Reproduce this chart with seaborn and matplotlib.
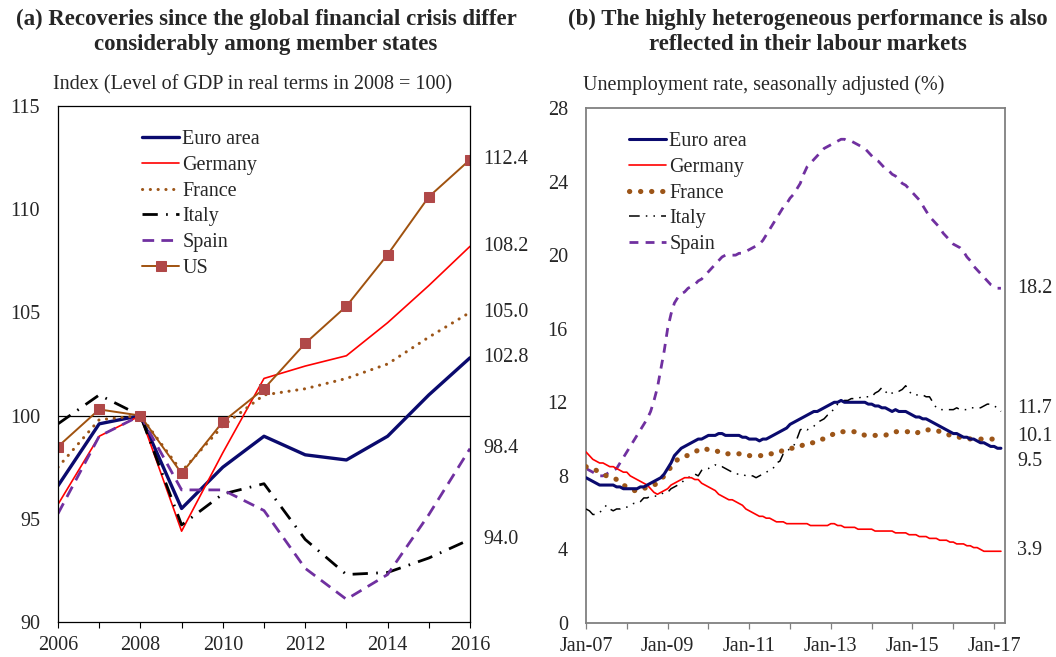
import numpy as np
import pandas as pd
import matplotlib
matplotlib.use("Agg")
import matplotlib.pyplot as plt
import seaborn as sns

# ---------------- data: panel (a) ----------------
years = [2006, 2007, 2008, 2009, 2010, 2011, 2012, 2013, 2014, 2015, 2016]
gdp_euro = [96.6, 99.6, 100.0, 95.5, 97.5, 99.0, 98.1, 97.85, 99.0, 101.0, 102.8]
gdp_germany = [95.7, 99.0, 100.0, 94.4, 98.2, 101.8, 102.4, 102.9, 104.5, 106.3, 108.2]
gdp_france = [97.5, 99.8, 100.0, 97.3, 99.5, 101.0, 101.3, 101.8, 102.5, 103.8, 105.0]
gdp_italy = [99.6, 101.0, 100.0, 94.7, 96.2, 96.7, 94.0, 92.3, 92.4, 93.1, 94.0]
gdp_spain = [95.25, 99.0, 100.0, 96.4, 96.4, 95.4, 92.6, 91.1, 92.3, 95.2, 98.4]
gdp_us = [98.5, 100.3, 100.0, 97.2, 99.7, 101.3, 103.5, 105.3, 107.8, 110.6, 112.4]

# ---------------- data: panel (b), monthly Jan-07 .. Mar-17 ----------------
un_euro = [
    7.9, 7.8, 7.7, 7.6, 7.5, 7.5, 7.5, 7.5, 7.5, 7.4, 7.4, 7.3,
    7.3, 7.3, 7.3, 7.3, 7.4, 7.4, 7.5, 7.6, 7.7, 7.8, 7.9, 8.1,
    8.4, 8.7, 9.1, 9.3, 9.5, 9.6, 9.7, 9.8, 9.9, 10.0, 10.0, 10.1,
    10.2, 10.2, 10.2, 10.3, 10.3, 10.2, 10.2, 10.2, 10.2, 10.2, 10.1, 10.1,
    10.0, 10.0, 10.0, 9.9, 10.0, 10.0, 10.1, 10.2, 10.3, 10.4, 10.5, 10.6,
    10.8, 10.9, 11.0, 11.1, 11.2, 11.3, 11.4, 11.5, 11.5, 11.6, 11.7, 11.8,
    11.9, 12.0, 12.0, 12.1, 12.0, 12.0, 12.0, 12.0, 12.0, 12.0, 12.0, 11.9,
    11.9, 11.8, 11.8, 11.7, 11.7, 11.6, 11.5, 11.6, 11.5, 11.5, 11.5, 11.4,
    11.3, 11.2, 11.2, 11.1, 11.1, 11.0, 10.9, 10.8, 10.7, 10.6, 10.5, 10.4,
    10.3, 10.3, 10.2, 10.1, 10.1, 10.0, 10.0, 9.9, 9.8, 9.8, 9.7, 9.6,
    9.6, 9.5, 9.5]
un_germany = [
    9.3, 9.1, 8.9, 8.8, 8.7, 8.7, 8.6, 8.5, 8.5, 8.4, 8.3, 8.2,
    8.2, 8.0, 7.9, 7.8, 7.7, 7.6, 7.5, 7.3, 7.1, 7.0, 7.1, 7.2,
    7.3, 7.5, 7.6, 7.7, 7.8, 7.9, 7.9, 7.9, 7.8, 7.8, 7.6, 7.5,
    7.4, 7.3, 7.2, 7.0, 6.9, 6.8, 6.7, 6.7, 6.6, 6.5, 6.4, 6.2,
    6.1, 6.0, 5.9, 5.8, 5.8, 5.7, 5.7, 5.6, 5.5, 5.5, 5.5, 5.4,
    5.4, 5.4, 5.4, 5.4, 5.4, 5.4, 5.3, 5.3, 5.3, 5.3, 5.3, 5.3,
    5.4, 5.4, 5.3, 5.3, 5.2, 5.2, 5.2, 5.2, 5.1, 5.1, 5.1, 5.1,
    5.1, 5.0, 5.0, 5.0, 5.0, 5.0, 5.0, 4.9, 4.9, 4.9, 4.9, 4.8,
    4.8, 4.8, 4.7, 4.7, 4.7, 4.6, 4.6, 4.6, 4.5, 4.5, 4.5, 4.4,
    4.4, 4.3, 4.3, 4.3, 4.2, 4.2, 4.1, 4.1, 4.0, 3.9, 3.9, 3.9,
    3.9, 3.9, 3.9]
un_france = [
    8.5, 8.4, 8.4, 8.3, 8.2, 8.1, 8.0, 8.0, 7.9, 7.8, 7.6, 7.5,
    7.4, 7.3, 7.2, 7.2, 7.3, 7.3, 7.4, 7.5, 7.5, 7.6, 7.8, 8.0,
    8.2, 8.5, 8.7, 8.9, 9.0, 9.1, 9.1, 9.2, 9.3, 9.4, 9.5, 9.5,
    9.4, 9.4, 9.4, 9.3, 9.3, 9.2, 9.2, 9.2, 9.2, 9.2, 9.2, 9.1,
    9.1, 9.1, 9.1, 9.1, 9.1, 9.1, 9.2, 9.2, 9.3, 9.3, 9.4, 9.4,
    9.5, 9.5, 9.6, 9.6, 9.7, 9.7, 9.8, 9.8, 9.9, 10.0, 10.0, 10.1,
    10.2, 10.3, 10.3, 10.4, 10.4, 10.4, 10.4, 10.4, 10.3, 10.3, 10.2, 10.2,
    10.2, 10.2, 10.2, 10.2, 10.2, 10.3, 10.3, 10.4, 10.4, 10.4, 10.4, 10.4,
    10.3, 10.3, 10.4, 10.5, 10.5, 10.5, 10.5, 10.5, 10.4, 10.4, 10.3, 10.2,
    10.2, 10.1, 10.1, 10.1, 10.1, 10.0, 10.0, 10.0, 10.0, 10.0, 10.0, 10.0,
    10.0, 10.1, 10.1]
un_italy = [
    6.2, 6.1, 5.9, 5.9, 6.0, 6.2, 6.4, 6.2, 6.1, 6.2, 6.2, 6.3,
    6.3, 6.4, 6.5, 6.5, 6.6, 6.8, 6.8, 6.9, 6.9, 6.9, 7.0, 7.1,
    7.1, 7.3, 7.4, 7.5, 7.6, 7.8, 7.9, 8.0, 8.1, 8.0, 8.3, 8.4,
    8.4, 8.5, 8.6, 8.5, 8.5, 8.4, 8.3, 8.2, 8.1, 8.1, 8.1, 8.0,
    8.0, 8.0, 7.9, 8.0, 8.1, 8.2, 8.3, 8.4, 8.7, 8.8, 9.2, 9.3,
    9.5, 9.6, 10.0, 10.5, 10.6, 10.5, 10.6, 10.7, 10.9, 11.0, 11.1, 11.3,
    11.4, 11.7, 11.9, 12.0, 12.1, 12.1, 12.2, 12.2, 12.2, 12.3, 12.3, 12.3,
    12.3, 12.5, 12.6, 12.8, 12.6, 12.4, 12.5, 12.6, 12.6, 12.7, 12.9, 12.6,
    12.4, 12.4, 12.4, 12.4, 12.3, 12.3, 12.0, 11.7, 11.6, 11.6, 11.6, 11.6,
    11.6, 11.7, 11.6, 11.6, 11.6, 11.7, 11.7, 11.7, 11.7, 11.8, 11.9, 11.9,
    11.8, 11.7, 11.5]
un_spain = [
    8.4, 8.3, 8.2, 8.1, 8.0, 8.0, 8.1, 8.2, 8.3, 8.4, 8.7, 9.0,
    9.3, 9.6, 9.9, 10.2, 10.5, 10.8, 11.1, 11.5, 12.1, 12.8, 13.8, 14.8,
    16.0, 16.8, 17.4, 17.7, 17.9, 18.0, 18.2, 18.3, 18.4, 18.6, 18.7, 18.9,
    19.1, 19.3, 19.5, 19.7, 19.9, 20.0, 20.0, 20.0, 20.0, 20.1, 20.1, 20.2,
    20.3, 20.4, 20.5, 20.6, 20.8, 21.1, 21.4, 21.7, 22.0, 22.3, 22.6, 22.8,
    23.1, 23.3, 23.6, 23.9, 24.4, 24.8, 25.0, 25.2, 25.4, 25.6, 25.8, 25.9,
    26.0, 26.1, 26.2, 26.3, 26.3, 26.2, 26.2, 26.1, 26.0, 25.9, 25.8, 25.6,
    25.4, 25.2, 25.1, 24.9, 24.7, 24.6, 24.4, 24.3, 24.1, 23.9, 23.8, 23.6,
    23.4, 23.2, 23.0, 22.7, 22.4, 22.1, 21.9, 21.7, 21.5, 21.2, 21.0, 20.8,
    20.6, 20.5, 20.4, 20.2, 19.9, 19.7, 19.4, 19.2, 19.0, 18.8, 18.6, 18.4,
    18.3, 18.2, 18.2]

month_tick_labels = ["Jan-07", "Jan-09", "Jan-11", "Jan-13", "Jan-15", "Jan-17"]
right_end_labels = ["9.5", "3.9", "10.1", "11.7", "18.2"]  # Euro, Germany, France, Italy, Spain

title_a = "(a) Recoveries since the global financial crisis differ\nconsiderably among member states"
title_b = "(b) The highly heterogeneous performance is also\nreflected in their labour markets"
sub_a = "Index (Level of GDP in real terms in 2008 = 100)"
sub_b = "Unemployment rate, seasonally adjusted (%)"

# ---------------- styling ----------------
sns.set_theme(style="white")
plt.rcParams['font.family'] = ['Liberation Serif', 'DejaVu Serif']
FS = 14.5
TFS = 16.5

NAVY = "#0a0a6e"
RED = "#ff0000"
BROWN = "#9c5518"
PURPLE = "#7030a0"
US_LINE = "#a0520f"
US_MARK = "#b04848"

W, H = 1056, 657
fig = plt.figure(figsize=(W / 100, H / 100), dpi=100)

def fx(px):
    return px / W

def fy(py):
    return 1 - py / H

axL = fig.add_axes([fx(58), fy(622), fx(470) - fx(58), fy(106) - fy(622)])
axR = fig.add_axes([fx(586), fy(623), fx(1005) - fx(586), fy(108) - fy(623)])

# ---------------- panel (a) ----------------
dfa = pd.DataFrame({"year": years, "Euro area": gdp_euro, "Germany": gdp_germany,
                    "France": gdp_france, "Italy": gdp_italy, "Spain": gdp_spain,
                    "US": gdp_us})

axL.axhline(100, color="black", lw=0.9, zorder=1)
styles_a = {
    "Euro area": dict(color=NAVY, lw=2.4, linestyle="-"),
    "Germany": dict(color=RED, lw=1.2, linestyle="-"),
    "France": dict(color=BROWN, lw=2.2, linestyle=(0, (0.05, 2.5)), dash_capstyle="round"),
    "Italy": dict(color="black", lw=2.0, linestyle=(0, (5.5, 3.0, 0.6, 3.0))),
    "Spain": dict(color=PURPLE, lw=2.0, linestyle=(0, (4.2, 2.6))),
    "US": dict(color=US_LINE, lw=1.4, linestyle="-", marker="s", markersize=6.5,
               markerfacecolor=US_MARK, markeredgecolor=US_MARK),
}
handles_a = []
for name in ["Euro area", "Germany", "France", "Italy", "Spain", "US"]:
    sns.lineplot(data=dfa, x="year", y=name, ax=axL, errorbar=None, label=name,
                 legend=False, **styles_a[name])
    handles_a.append(axL.lines[-1])

axL.set_xlim(2006, 2016)
axL.set_ylim(90, 115)
axL.set_xticks(years)
axL.set_xticklabels([str(y) if (y % 2 == 0) else "" for y in years])
axL.set_yticks([90, 95, 100, 105, 110, 115])
axL.tick_params(axis="x", which="both", direction="out", length=4, width=0.8,
                color="black", bottom=True, labelsize=FS, pad=6)
axL.tick_params(axis="y", length=0, labelsize=FS, pad=13)
axL.set_xlabel("")
axL.set_ylabel("")
for s in axL.spines.values():
    s.set_color("black")
    s.set_linewidth(0.9)

for vals in [gdp_us, gdp_germany, gdp_france, gdp_euro, gdp_spain, gdp_italy]:
    axL.text(2016.32, vals[-1], f"{vals[-1]:.1f}", fontsize=FS, va="center", ha="left",
             clip_on=False)

axL.legend(handles=handles_a, labels=["Euro area", "Germany", "France", "Italy", "Spain", "US"],
           loc="upper left", bbox_to_anchor=((142 - 58) / 412, (622 - 130) / 516),
           frameon=False, fontsize=FS, borderpad=0, borderaxespad=0,
           handlelength=1.85, handletextpad=0.15, labelspacing=0.33)

# ---------------- panel (b) ----------------
months = list(range(len(un_euro)))
dfb = pd.DataFrame({"month": months, "Euro area": un_euro, "Germany": un_germany,
                    "France": un_france, "Italy": un_italy, "Spain": un_spain})
styles_b = {
    "Euro area": dict(color=NAVY, lw=2.2, linestyle="-"),
    "Germany": dict(color=RED, lw=1.2, linestyle="-"),
    "France": dict(color=BROWN, lw=3.7, linestyle=(0, (0.05, 2.1)), dash_capstyle="round"),
    "Italy": dict(color="black", lw=1.1, linestyle=(0, (7.0, 4.0, 1.0, 4.0, 1.0, 4.0))),
    "Spain": dict(color=PURPLE, lw=2.0, linestyle=(0, (3.2, 2.6))),
}
handles_b = []
order_b = ["Euro area", "Germany", "France", "Italy", "Spain"]
zorders = {"Spain": 2, "Italy": 3, "Germany": 4, "France": 5, "Euro area": 6}
for name in order_b:
    sns.lineplot(data=dfb, x="month", y=name, ax=axR, errorbar=None, label=name,
                 legend=False, zorder=zorders[name], **styles_b[name])
    handles_b.append(axR.lines[-1])

axR.set_xlim(0, 123.2)
axR.set_ylim(0, 28)
axR.set_xticks(list(range(0, 121, 12)), minor=True)
axR.set_xticks(list(range(0, 121, 24)))
axR.set_xticklabels(month_tick_labels)
axR.set_yticks([0, 4, 8, 12, 16, 20, 24, 28])
axR.tick_params(axis="x", which="both", direction="out", length=4, width=0.9,
                color="#808080", bottom=True, labelsize=FS, pad=6)
axR.tick_params(axis="y", length=0, labelsize=FS, pad=13)
axR.set_xlabel("")
axR.set_ylabel("")
for s in axR.spines.values():
    s.set_color("#808080")
    s.set_linewidth(1.3)

label_y_b = [8.77, 3.93, 10.13, 11.64, 18.2]
for txt, yv in zip(right_end_labels, label_y_b):
    axR.text(126.8, yv, txt, fontsize=FS, va="center", ha="left", clip_on=False)

axR.legend(handles=handles_b, labels=order_b,
           loc="upper left", bbox_to_anchor=((629 - 586) / 419, (623 - 132) / 515),
           frameon=False, fontsize=FS, borderpad=0, borderaxespad=0,
           handlelength=1.85, handletextpad=0.15, labelspacing=0.33)

# ---------------- titles ----------------
fig.text(fx(266), fy(32), title_a, ha="center", va="center", fontsize=TFS,
         fontweight="bold", linespacing=1.2)
fig.text(fx(808), fy(32), title_b, ha="center", va="center", fontsize=TFS,
         fontweight="bold", linespacing=1.2)
fig.text(fx(53), fy(85), sub_a, ha="left", va="center", fontsize=FS)
fig.text(fx(583), fy(85), sub_b, ha="left", va="center", fontsize=FS)

fig.savefig("out.png", dpi=100, facecolor="white")
